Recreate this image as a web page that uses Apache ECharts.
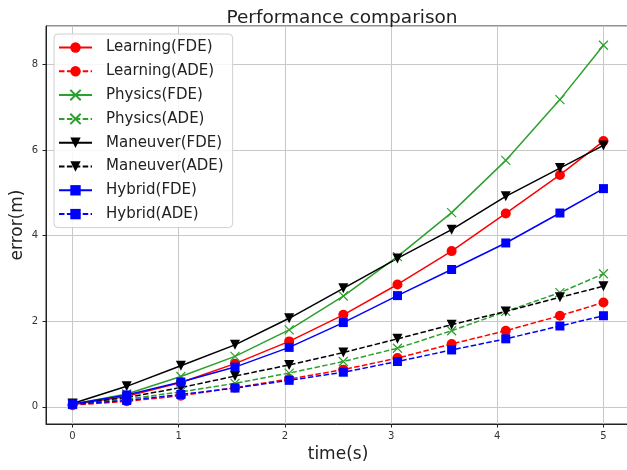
<!DOCTYPE html>
<html>
<head>
<meta charset="utf-8">
<title>Performance comparison</title>
<script src="https://cdn.jsdelivr.net/npm/echarts@6/dist/echarts.min.js"></script>
<style>
    html, body {margin: 0; padding: 0; background: #fff;}
    #main {width: 627px; height: 470px;}
</style>
</head>
<body>
<div id="main"></div>
<script>
// time steps (s)
var timeSteps = [0, 0.51, 1.02, 1.53, 2.04, 2.55, 3.06, 3.57, 4.08, 4.59, 5.0];

// errors (m)
var learningFDE = [0.05, 0.25, 0.57, 1.01, 1.53, 2.15, 2.86, 3.64, 4.52, 5.42, 6.21];
var learningADE = [0.04, 0.13, 0.26, 0.45, 0.65, 0.87, 1.14, 1.47, 1.78, 2.13, 2.44];
var physicsFDE = [0.06, 0.30, 0.71, 1.18, 1.80, 2.59, 3.51, 4.54, 5.76, 7.18, 8.45];
var physicsADE = [0.06, 0.18, 0.35, 0.55, 0.79, 1.06, 1.37, 1.78, 2.23, 2.67, 3.11];
var maneuverFDE = [0.08, 0.48, 0.96, 1.45, 2.07, 2.77, 3.47, 4.14, 4.92, 5.58, 6.11];
var maneuverADE = [0.07, 0.22, 0.45, 0.72, 0.98, 1.27, 1.59, 1.92, 2.23, 2.56, 2.82];
var hybridFDE = [0.07, 0.28, 0.58, 0.93, 1.39, 1.97, 2.60, 3.21, 3.83, 4.53, 5.10];
var hybridADE = [0.06, 0.15, 0.29, 0.44, 0.62, 0.81, 1.06, 1.33, 1.59, 1.89, 2.13];

var FONT = 'DejaVu Sans';
var crossSymbol = 'path://M0,0L10,10M10,0L0,10';

function pairs(values) {
    var out = [];
    for (var i = 0; i < timeSteps.length; i++) {
        out.push([timeSteps[i], values[i]]);
    }
    return out;
}

function makeSeries(name, values, color, symbol, dashed) {
    var s = {
        name: name,
        type: 'line',
        data: pairs(values),
        symbol: symbol,
        symbolSize: 10,
        showAllSymbol: true,
        animation: false,
        lineStyle: {color: color, width: 1.5, type: dashed ? [5.5, 2.4] : 'solid'},
        itemStyle: {color: color, borderWidth: 0}
    };
    if (symbol === 'triangle') {
        s.symbolRotate = 180;
    }
    if (symbol === 'rect') {
        s.symbolSize = 9;
    }
    if (symbol === crossSymbol) {
        s.symbolSize = 9;
        s.itemStyle = {color: color, borderColor: color, borderWidth: 1.2};
    }
    return s;
}

var dom = document.getElementById("main");
var myChart = echarts.init(dom, null, {renderer: 'canvas'});
var option = {
    backgroundColor: '#fff',
    title: {
        text: 'Performance comparison',
        left: 337,
        textAlign: 'center',
        top: 4,
        textStyle: {fontFamily: FONT, fontSize: 18.5, fontWeight: 'normal', color: '#222'}
    },
    legend: {
        orient: 'vertical',
        left: 54,
        top: 34,
        padding: [6, 9, 6, 4],
        itemWidth: 33,
        itemHeight: 13,
        itemGap: 8.8,
        backgroundColor: 'rgba(255,255,255,0.85)',
        borderColor: '#d0d0d0',
        borderWidth: 1,
        borderRadius: 4,
        textStyle: {fontFamily: FONT, fontSize: 15, lineHeight: 15, color: '#222', padding: [0, 0, 0, 9]}
    },
    grid: {
        left: 46,
        top: 26,
        right: -3,
        bottom: 46,
        outerBoundsMode: 'none',
        containLabel: false,
        show: true,
        borderColor: '#222',
        borderWidth: 1
    },
    xAxis: {
        type: 'value',
        min: -0.25,
        max: 5.25,
        splitNumber: 5,
        name: 'time(s)',
        nameLocation: 'middle',
        nameGap: 22,
        nameMoveOverlap: false,
        nameTextStyle: {fontFamily: FONT, fontSize: 17, color: '#222'},
        axisLine: {show: true, onZero: false, lineStyle: {color: '#222', width: 1}},
        axisTick: {show: true, length: 3.5, lineStyle: {color: '#222'}},
        axisLabel: {fontFamily: FONT, fontSize: 10, color: '#333', margin: 7, showMinLabel: false, showMaxLabel: false},
        splitLine: {show: true, lineStyle: {color: '#c8c8c8', width: 1}}
    },
    yAxis: {
        type: 'value',
        min: -0.4,
        max: 8.9,
        splitNumber: 5,
        name: 'error(m)',
        nameLocation: 'middle',
        nameGap: 20,
        nameMoveOverlap: false,
        nameTextStyle: {fontFamily: FONT, fontSize: 17, color: '#222'},
        axisLine: {show: true, onZero: false, lineStyle: {color: '#222', width: 1}},
        axisTick: {show: true, length: 3.5, lineStyle: {color: '#222'}},
        axisLabel: {fontFamily: FONT, fontSize: 10, color: '#333', margin: 8, showMinLabel: false, showMaxLabel: false},
        splitLine: {show: true, lineStyle: {color: '#c8c8c8', width: 1}}
    },
    series: [
        makeSeries('Learning(FDE)', learningFDE, '#ff0000', 'circle', false),
        makeSeries('Learning(ADE)', learningADE, '#ff0000', 'circle', true),
        makeSeries('Physics(FDE)', physicsFDE, '#2ca02c', crossSymbol, false),
        makeSeries('Physics(ADE)', physicsADE, '#2ca02c', crossSymbol, true),
        makeSeries('Maneuver(FDE)', maneuverFDE, '#000000', 'triangle', false),
        makeSeries('Maneuver(ADE)', maneuverADE, '#000000', 'triangle', true),
        makeSeries('Hybrid(FDE)', hybridFDE, '#0000ff', 'rect', false),
        makeSeries('Hybrid(ADE)', hybridADE, '#0000ff', 'rect', true)
    ]
};

if (option && typeof option === "object") {
    myChart.setOption(option, true);
}
</script>
</body>
</html>
